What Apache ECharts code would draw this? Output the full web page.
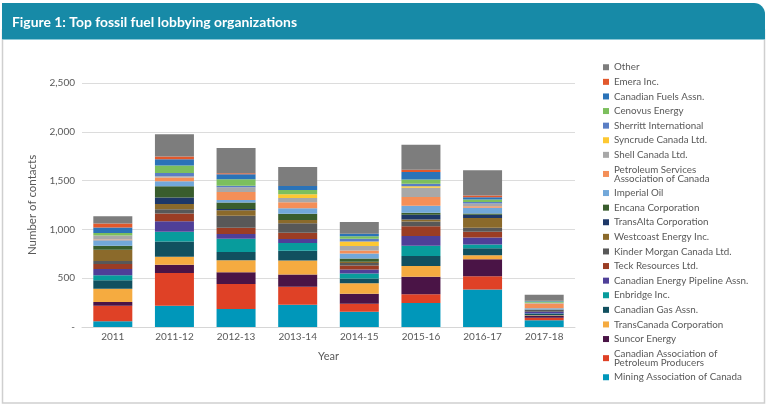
<!DOCTYPE html>
<html>
<head>
<meta charset="utf-8">
<script src="https://cdn.jsdelivr.net/npm/echarts@6/dist/echarts.min.js"></script>
<style>
  html, body { margin: 0; padding: 0; background: #ffffff; }
  #chart { width: 768px; height: 407px; }
</style>
</head>
<body>
<div id="chart"></div>
<script>
// ---- data ----
const categories = ['2011', '2011-12', '2012-13', '2013-14', '2014-15', '2015-16', '2016-17', '2017-18'];

const mining      = [58, 219, 184, 229, 157, 246, 383, 68];
const capp        = [160, 335, 256, 184, 82, 89, 137, 27];
const suncor      = [38, 85, 120, 126, 102, 181, 174, 20];
const transcanada = [137, 82, 123, 143, 106, 109, 41, 5];
const canGas      = [85, 154, 85, 99, 51, 102, 72, 14];
const enbridge    = [51, 102, 137, 79, 51, 106, 38, 5];
const cepa        = [65, 106, 48, 41, 41, 99, 72, 17];
const teck        = [51, 79, 65, 65, 41, 99, 58, 0];
const kinder      = [31, 44, 123, 96, 24, 51, 41, 17];
const westcoast   = [116, 55, 55, 34, 14, 20, 102, 0];
const transalta   = [0, 65, 14, 0, 0, 48, 31, 3];
const encana      = [41, 116, 65, 65, 34, 20, 14, 3];
const imperial    = [55, 51, 27, 55, 51, 72, 58, 14];
const petroServ   = [8, 38, 82, 61, 31, 89, 17, 48];
const shell       = [41, 14, 48, 44, 44, 96, 27, 7];
const syncrude    = [0, 0, 0, 38, 48, 14, 0, 0];
const sherritt    = [0, 34, 14, 0, 27, 27, 17, 0];
const cenovus     = [27, 75, 68, 44, 27, 44, 24, 14];
const canFuels    = [55, 65, 51, 41, 24, 75, 24, 5];
const emera       = [41, 27, 10, 0, 0, 24, 17, 3];
const other       = [76, 229, 260, 195, 120, 256, 260, 60];

const yTicks = [0, 500, 1000, 1500, 2000, 2500];
const yTickLabels = ['-', '500', '1,000', '1,500', '2,000', '2,500'];

const titleText = 'Figure 1: Top fossil fuel lobbying organizations';

// bottom-to-top stacking order
const seriesDefs = [
  ['Mining Association of Canada', mining, '#0097ba'],
  ['Canadian Association of\nPetroleum Producers', capp, '#df4126'],
  ['Suncor Energy', suncor, '#4a1446'],
  ['TransCanada Corporation', transcanada, '#f5ab40'],
  ['Canadian Gas Assn.', canGas, '#11505f'],
  ['Enbridge Inc.', enbridge, '#089c9c'],
  ['Canadian Energy Pipeline Assn.', cepa, '#4f3f98'],
  ['Teck Resources Ltd.', teck, '#9b3d24'],
  ['Kinder Morgan Canada Ltd.', kinder, '#585858'],
  ['Westcoast Energy Inc.', westcoast, '#8b6a2b'],
  ['TransAlta Corporation', transalta, '#1e3868'],
  ['Encana Corporation', encana, '#395d2d'],
  ['Imperial Oil', imperial, '#72a8da'],
  ['Petroleum Services\nAssociation of Canada', petroServ, '#f48f58'],
  ['Shell Canada Ltd.', shell, '#a8a8a8'],
  ['Syncrude Canada Ltd.', syncrude, '#fdc832'],
  ['Sherritt International', sherritt, '#5a7ec4'],
  ['Cenovus Energy', cenovus, '#7cbf5d'],
  ['Canadian Fuels Assn.', canFuels, '#2b73b8'],
  ['Emera Inc.', emera, '#e2582c'],
  ['Other', other, '#7d7d7d']
];

const series = seriesDefs.map(function (d) {
  return {
    name: d[0],
    type: 'bar',
    stack: 'total',
    barWidth: 39,
    data: d[1],
    itemStyle: { color: d[2] },
    emphasis: { disabled: true }
  };
});

const legendNames = seriesDefs.map(function (d) { return d[0]; }).slice().reverse();

// condense the title horizontally to mimic a condensed bold face
const titleFont = 'bold 14px Lato, "Open Sans", sans-serif';
const ctx = document.createElement('canvas').getContext('2d');
ctx.font = titleFont;
const titleW = ctx.measureText(titleText).width || 285;
const titleScale = Math.min(1, 285 / titleW);

const chart = echarts.init(document.getElementById('chart'), null, { renderer: 'canvas' });

const textColor = '#595959';
const font = 'Lato, "Open Sans", sans-serif';

chart.setOption({
  animation: false,
  backgroundColor: '#ffffff',
  textStyle: { fontFamily: font },
  graphic: [
    {
      type: 'rect',
      z: -10,
      shape: { x: 2.5, y: 30, width: 762, height: 373 },
      style: { fill: '#ffffff', stroke: '#cfcfcf', lineWidth: 1.5 }
    },
    {
      type: 'rect',
      z: -5,
      shape: { x: 2, y: 3, width: 763, height: 37, r: [0, 11, 0, 0] },
      style: { fill: '#178aa7' }
    },
    {
      type: 'rect',
      z: -4,
      shape: { x: 2, y: 39, width: 763, height: 1 },
      style: { fill: '#8cc8d6' }
    },
    {
      type: 'text',
      z: 10,
      x: 12,
      y: 15,
      scaleX: titleScale,
      style: {
        text: titleText,
        fill: '#ffffff',
        font: titleFont
      }
    }
  ],
  legend: {
    orient: 'vertical',
    left: 603,
    top: 62,
    padding: 0,
    data: legendNames,
    icon: 'rect',
    itemWidth: 6,
    itemHeight: 6,
    itemGap: 4.1,
    selectedMode: false,
    textStyle: { fontSize: 9.8, lineHeight: 9, padding: [0.75, 0, 0.75, 0], color: textColor, fontFamily: font }
  },
  grid: { left: 82, right: 193, top: 83, bottom: 80, containLabel: false },
  xAxis: {
    type: 'category',
    data: categories,
    name: 'Year',
    nameLocation: 'middle',
    nameGap: 24,
    nameTextStyle: { fontSize: 11, color: textColor },
    axisLine: { lineStyle: { color: '#d6d6d6', width: 1 } },
    axisTick: { show: false },
    axisLabel: { fontSize: 10, color: textColor, margin: 5 }
  },
  yAxis: {
    type: 'value',
    min: 0,
    max: 2500,
    interval: 500,
    name: 'Number of contacts',
    nameLocation: 'middle',
    nameGap: 44,
    nameRotate: 90,
    nameTextStyle: { fontSize: 11.5, color: textColor },
    axisLine: { show: false },
    axisTick: { show: false },
    splitLine: { lineStyle: { color: '#dcdcdc', width: 1 } },
    axisLabel: {
      fontSize: 10,
      color: textColor,
      margin: 7,
      formatter: function (v) {
        const i = yTicks.indexOf(v);
        return i >= 0 ? yTickLabels[i] : String(v);
      }
    }
  },
  series: series
});
</script>
</body>
</html>
